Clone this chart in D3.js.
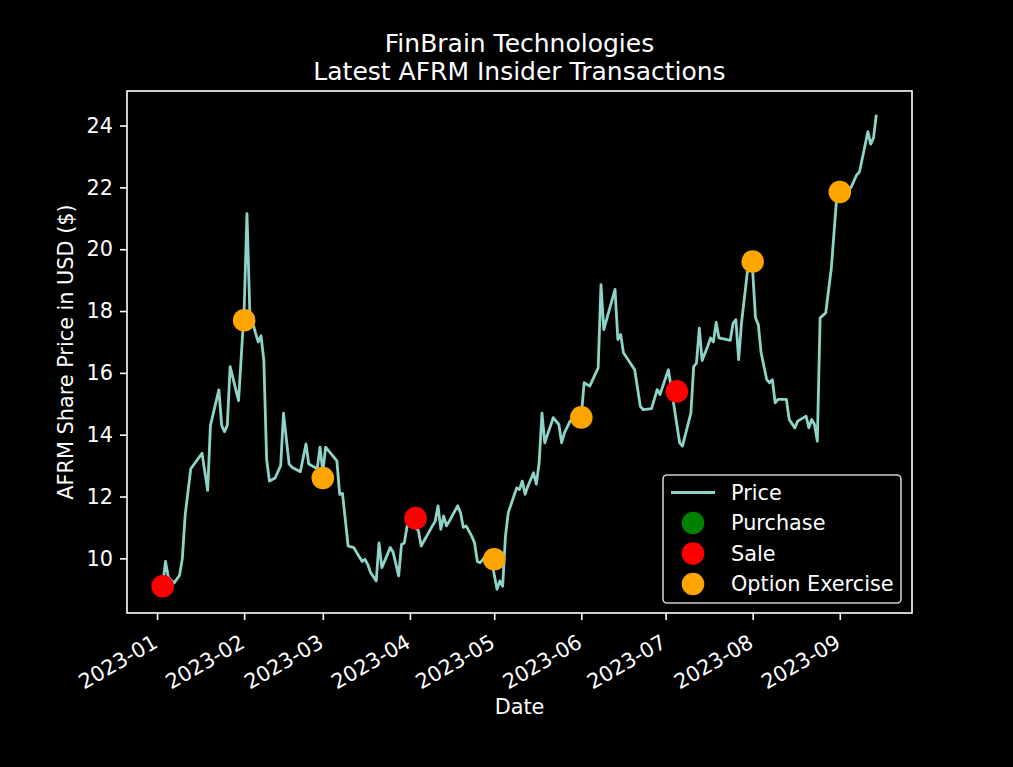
<!DOCTYPE html>
<html>
<head>
<meta charset="utf-8">
<script src="https://cdn.jsdelivr.net/npm/d3@7"></script>
<style>
html,body{margin:0;padding:0;background:#000;}
svg{display:block;}
text{font-family:"DejaVu Sans",sans-serif;fill:#fff;}
</style>
</head>
<body>
<script>
const priceDates = ["2023-01-03","2023-01-04","2023-01-05","2023-01-07","2023-01-09","2023-01-10","2023-01-11","2023-01-13","2023-01-17","2023-01-19","2023-01-20","2023-01-23","2023-01-24","2023-01-25","2023-01-26","2023-01-27","2023-01-30",
"2023-02-01","2023-02-02","2023-02-03","2023-02-05","2023-02-06","2023-02-07","2023-02-08","2023-02-09","2023-02-10","2023-02-12","2023-02-14","2023-02-15","2023-02-17","2023-02-18","2023-02-21","2023-02-23","2023-02-24","2023-02-27","2023-02-28",
"2023-03-01","2023-03-02","2023-03-06","2023-03-07","2023-03-08","2023-03-10","2023-03-12","2023-03-13","2023-03-15","2023-03-16","2023-03-17","2023-03-18","2023-03-20","2023-03-21","2023-03-22","2023-03-24","2023-03-25","2023-03-26","2023-03-28","2023-03-29","2023-03-30","2023-03-31",
"2023-04-01","2023-04-04","2023-04-05","2023-04-09","2023-04-10","2023-04-11","2023-04-12","2023-04-13","2023-04-14","2023-04-15","2023-04-18","2023-04-19","2023-04-20","2023-04-21","2023-04-23","2023-04-24","2023-04-25","2023-04-26","2023-04-28","2023-04-30",
"2023-05-02","2023-05-03","2023-05-04","2023-05-05","2023-05-06","2023-05-09","2023-05-10","2023-05-11","2023-05-12","2023-05-13","2023-05-15","2023-05-16","2023-05-17","2023-05-18","2023-05-19","2023-05-22","2023-05-24","2023-05-25","2023-05-26","2023-05-28",
"2023-06-01","2023-06-02","2023-06-04","2023-06-07","2023-06-08","2023-06-09","2023-06-13","2023-06-14","2023-06-15","2023-06-16","2023-06-20","2023-06-22","2023-06-23","2023-06-26","2023-06-28","2023-06-29",
"2023-07-02","2023-07-06","2023-07-07","2023-07-10","2023-07-11","2023-07-12","2023-07-13","2023-07-14","2023-07-16","2023-07-17","2023-07-18","2023-07-19","2023-07-20","2023-07-24","2023-07-25","2023-07-26","2023-07-27","2023-07-28","2023-07-30","2023-07-31",
"2023-08-01","2023-08-02","2023-08-03","2023-08-04","2023-08-06","2023-08-07","2023-08-08","2023-08-09","2023-08-10","2023-08-13","2023-08-14","2023-08-16","2023-08-17","2023-08-20","2023-08-21","2023-08-22","2023-08-23","2023-08-24","2023-08-25","2023-08-27","2023-08-29","2023-08-31",
"2023-09-04","2023-09-05","2023-09-07","2023-09-08","2023-09-11","2023-09-12","2023-09-13","2023-09-14"];
const priceValues = [9.1,9.9,9.4,9.2,9.45,10.0,11.4,12.9,13.4,12.2,14.3,15.45,14.3,14.1,14.3,16.2,15.1,
18.05,21.15,18.0,17.3,17.0,17.2,16.4,13.2,12.5,12.6,13.0,14.7,13.05,12.95,12.8,13.7,13.05,12.9,13.6,
12.8,13.6,13.15,12.07,12.1,10.4,10.35,10.2,9.9,9.97,9.8,9.54,9.27,10.5,9.7,10.13,10.35,10.2,9.43,10.45,10.5,11.05,
11.15,10.9,10.4,11.05,11.2,11.7,10.94,11.37,11.05,11.2,11.7,11.48,11.0,11.05,10.72,10.5,9.9,9.86,10.07,9.95,
9.0,9.27,9.1,10.72,11.48,12.28,12.23,12.5,12.07,12.34,12.77,12.4,13.1,14.7,13.74,14.55,14.33,13.74,14.06,14.44,
14.6,15.68,15.57,16.16,18.85,17.4,18.7,17.08,17.24,16.65,16.1,14.92,14.81,14.84,15.46,15.3,
16.1,13.74,13.63,14.7,16.2,16.32,17.45,16.4,16.86,17.13,17.0,17.63,17.13,17.05,17.6,17.72,16.43,17.6,19.18,19.8,
19.28,17.78,17.56,16.65,15.78,15.68,15.78,15.03,15.14,15.14,14.49,14.22,14.44,14.6,14.22,14.49,14.33,13.79,17.78,17.94,19.4,21.8,
21.9,22.0,22.4,22.5,23.8,23.4,23.6,24.35];

const txDates = ["2023-01-03","2023-02-01","2023-03-01","2023-04-03","2023-05-01","2023-06-01","2023-07-05","2023-08-01","2023-09-01"];
const txPrices = [9.1,17.7,12.6,11.3,9.97,14.56,15.4,19.6,21.85];
const txTypes = ["Sale","Option Exercise","Option Exercise","Sale","Option Exercise","Option Exercise","Sale","Option Exercise","Option Exercise"];

const legendLabels = ["Price","Purchase","Sale","Option Exercise"];
const typeColors = {"Purchase":"green","Sale":"red","Option Exercise":"orange"};
const xTickLabels = ["2023-01","2023-02","2023-03","2023-04","2023-05","2023-06","2023-07","2023-08","2023-09"];
const yTickValues = [10,12,14,16,18,20,22,24];
const titleLines = ["FinBrain Technologies","Latest AFRM Insider Transactions"];

const W = 1013, H = 767;
const L = 127, R = 912, T = 91, B = 613;
const FS = 20.8, TFS = 25;
const parse = d3.timeParse("%Y-%m-%d");
const pd = priceDates.map(parse);
const lineColor = "#8dd3c7";

const svg = d3.select("body").append("svg").attr("width", W).attr("height", H);
svg.append("rect").attr("width", W).attr("height", H).attr("fill", "#000");

const [x0, x1] = d3.extent(pd);
const xpad = (x1 - x0) * 0.05;
const x = d3.scaleTime().domain([new Date(+x0 - xpad), new Date(+x1 + xpad)]).range([L, R]);
const [y0, y1] = d3.extent(priceValues);
const ypad = (y1 - y0) * 0.05;
const y = d3.scaleLinear().domain([y0 - ypad, y1 + ypad]).range([B, T]);

// line
const pts = pd.map((d, i) => [d, priceValues[i]]);
svg.append("path").datum(pts)
  .attr("fill", "none").attr("stroke", lineColor).attr("stroke-width", 2.8)
  .attr("stroke-linejoin", "round")
  .attr("d", d3.line().x(d => x(d[0])).y(d => y(d[1])));

// transactions
svg.append("g").selectAll("circle").data(txDates.map((d, i) => ({d: parse(d), v: txPrices[i], t: txTypes[i]})))
  .join("circle")
  .attr("cx", d => x(d.d)).attr("cy", d => y(d.v)).attr("r", 11.3)
  .attr("fill", d => typeColors[d.t]);

// axes
const xTicks = xTickLabels.map(s => parse(s + "-01"));
const xAxis = d3.axisBottom(x).tickValues(xTicks).tickFormat((d, i) => xTickLabels[i]).tickSize(7).tickPadding(0);
const gx = svg.append("g").attr("transform", `translate(0,${B})`).call(xAxis);
gx.select(".domain").remove();
gx.selectAll(".tick line").attr("stroke", "#fff").attr("stroke-width", 1.6);
gx.selectAll(".tick text")
  .attr("font-size", FS + "px").attr("fill", "#fff")
  .attr("text-anchor", "end").attr("dy", "0.35em")
  .attr("y", 0).attr("x", 0)
  .attr("transform", "translate(-2,27) rotate(-30)");

const yAxis = d3.axisLeft(y).tickValues(yTickValues).tickFormat(d3.format("d")).tickSize(7).tickPadding(7);
const gy = svg.append("g").attr("transform", `translate(${L},0)`).call(yAxis);
gy.select(".domain").remove();
gy.selectAll(".tick line").attr("stroke", "#fff").attr("stroke-width", 1.6);
gy.selectAll(".tick text").attr("font-size", FS + "px").attr("fill", "#fff");

// frame
svg.append("rect").attr("x", L).attr("y", T).attr("width", R - L).attr("height", B - T)
  .attr("fill", "none").attr("stroke", "#fff").attr("stroke-width", 1.6);

// titles
svg.append("g").selectAll("text").data(titleLines).join("text")
  .attr("x", (L + R) / 2).attr("y", (d, i) => 52 + i * 27.5)
  .attr("text-anchor", "middle").attr("font-size", TFS + "px").text(d => d);

svg.append("text").attr("x", (L + R) / 2).attr("y", 714).attr("text-anchor", "middle")
  .attr("font-size", FS + "px").text("Date");
svg.append("text").attr("transform", `translate(73,${(T + B) / 2}) rotate(-90)`)
  .attr("text-anchor", "middle").attr("font-size", FS + "px").text("AFRM Share Price in USD ($)");

// legend
const lg = svg.append("g");
lg.append("rect").attr("x", 663).attr("y", 475).attr("width", 238).attr("height", 128)
  .attr("rx", 4).attr("fill", "#000").attr("fill-opacity", 0.8)
  .attr("stroke", "#ccc").attr("stroke-width", 1.6);
legendLabels.forEach((lab, i) => {
  const cy = 492.5 + i * 30.5;
  if (i === 0) {
    lg.append("line").attr("x1", 671).attr("x2", 715).attr("y1", cy).attr("y2", cy)
      .attr("stroke", lineColor).attr("stroke-width", 2.8);
  } else {
    lg.append("circle").attr("cx", 693).attr("cy", cy).attr("r", 11.3).attr("fill", typeColors[lab]);
  }
  lg.append("text").attr("x", 731).attr("y", cy).attr("dy", "0.36em")
    .attr("font-size", FS + "px").text(lab);
});
</script>
</body>
</html>
